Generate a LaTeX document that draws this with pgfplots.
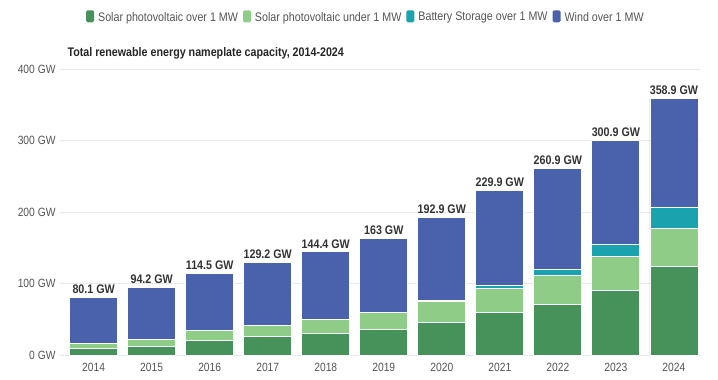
\documentclass[border=0pt]{standalone}
\usepackage{pgfplots}
\pgfplotsset{compat=1.18}
\usepackage{fontspec}
\setmainfont{Liberation Sans}[FakeStretch=0.86]
\definecolor{cLarge}{HTML}{46925A}
\definecolor{cSmall}{HTML}{8ECC87}
\definecolor{cBatt}{HTML}{1AA2AE}
\definecolor{cWind}{HTML}{4A62AC}
\definecolor{txt}{HTML}{333333}
\definecolor{tick}{HTML}{555555}
\begin{document}
\begin{tikzpicture}[x=1bp,y=1bp]
\useasboundingbox (0,0) rectangle (718,379);
\begin{axis}[
  at={(60bp,24bp)}, anchor=south west,
  scale only axis, width=640bp, height=285.7bp,
  ybar stacked, bar width=48bp,
  xmin=-0.58, xmax=10.45, ymin=0, ymax=400,
  xtick={0,1,2,3,4,5,6,7,8,9,10},
  xticklabels={2014,2015,2016,2017,2018,2019,2020,2021,2022,2023,2024},
  ytick={0,100,200,300,400},
  yticklabel={\pgfmathprintnumber{\tick} GW},
  /pgf/number format/assume math mode=true,
  axis line style={draw=none}, major tick style={draw=none},
  ymajorgrids, grid style={black!9, line width=0.6pt},
  yticklabel style={font=\fontsize{12}{12}\selectfont, text=tick, anchor=east, xshift=-1bp},
  xticklabel style={font=\fontsize{12}{12}\selectfont, text=tick, yshift=-4.5bp},
  every axis plot/.append style={draw=white, line width=0.8pt},
  legend columns=4,
  legend style={at={(axis description cs:0.478,1.182)}, anchor=center, draw=none,
    font=\fontsize{12.5}{13}\selectfont, text=tick, column sep=2bp,
    /tikz/every even column/.append style={column sep=3bp}},
  legend image code/.code={\fill[#1,draw=none,rounded corners=1.5bp] (0bp,-5bp) rectangle (8bp,7bp);},
]
\addplot[fill=cLarge] coordinates {(0,9.8) (1,12.2) (2,20.5) (3,25.7) (4,29.9) (5,36.0) (6,46.2) (7,59.3) (8,70.5) (9,90.6) (10,124.2)};
\addplot[fill=cSmall] coordinates {(0,7.0) (1,9.8) (2,13.5) (3,15.9) (4,20.5) (5,23.3) (6,29.0) (7,34.1) (8,41.1) (9,47.6) (10,53.2)};
\addplot[fill=cBatt] coordinates {(0,0) (1,0) (2,0) (3,0) (4,0) (5,0.2) (6,0.6) (7,4.2) (8,8.4) (9,16.8) (10,29.9)};
\addplot[fill=cWind] coordinates {(0,63.3) (1,72.2) (2,80.5) (3,87.6) (4,94.0) (5,103.5) (6,117.1) (7,132.3) (8,140.9) (9,145.9) (10,151.6)};
\legend{Solar photovoltaic over 1 MW, Solar photovoltaic under 1 MW, Battery Storage over 1 MW, Wind over 1 MW}
\end{axis}
\begin{axis}[
  at={(60bp,24bp)}, anchor=south west,
  scale only axis, width=640bp, height=285.7bp,
  xmin=-0.58, xmax=10.45, ymin=0, ymax=400,
  hide axis, clip=false,
]
\addplot[draw=none, mark=none, nodes near coords, point meta=explicit symbolic,
  nodes near coords style={font=\bfseries\fontsize{12.5}{13}\selectfont, text=txt, anchor=south, inner sep=2bp, yshift=1.5bp}]
  coordinates {(0,80.1) [80.1 GW] (1,94.2) [94.2 GW] (2,114.5) [114.5 GW] (3,129.2) [129.2 GW] (4,144.4) [144.4 GW]
  (5,163) [163 GW] (6,192.9) [192.9 GW] (7,229.9) [229.9 GW] (8,260.9) [260.9 GW] (9,300.9) [300.9 GW] (10,358.9) [358.9 GW]};
\end{axis}
\node[anchor=base west, font=\bfseries\fontsize{12.5}{13}\selectfont, text=black!85] at (64,323) {Total renewable energy nameplate capacity, 2014-2024};
\end{tikzpicture}
\end{document}
